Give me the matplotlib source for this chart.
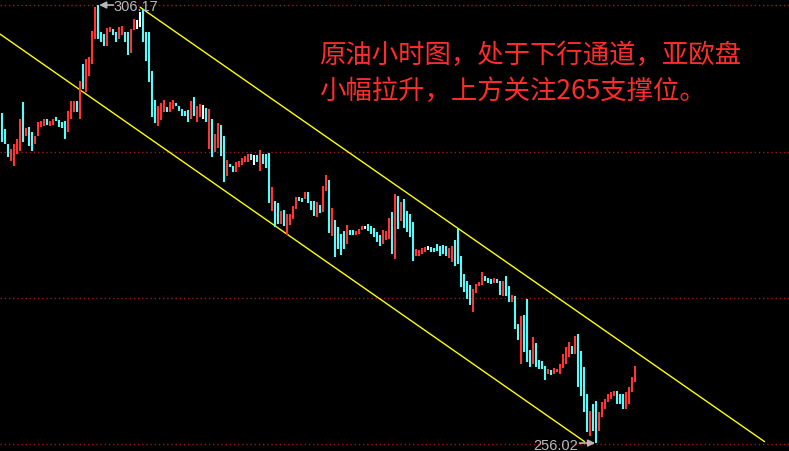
import matplotlib.pyplot as plt
import numpy as np

# hourly crude oil bars (high / low)
highs = [293.8, 292.0, 290.3, 289.7, 290.3, 290.8, 293.1, 295.1, 292.1, 292.2,
         291.6, 291.2, 292.8, 292.9, 293.1, 293.1, 292.9, 293.1, 293.3, 293.0,
         292.8, 292.9, 294.0, 295.2, 295.2, 295.2, 297.5, 299.4, 300.0, 300.2,
         303.2, 305.9, 306.17, 303.1, 302.8, 303.5, 303.7, 303.4, 303.1, 303.7,
         303.8, 303.1, 303.1, 303.4, 304.6, 304.5, 305.4, 305.7, 303.1, 303.1,
         298.6, 295.3, 294.6, 295.0, 295.3, 294.5, 295.1, 295.3, 295.0, 294.6,
         294.3, 294.0, 294.2, 295.2, 295.6, 294.6, 294.8, 294.7, 294.4, 294.3,
         293.1, 291.4, 292.7, 292.4, 291.2, 288.4, 288.0, 287.7, 288.2, 288.3,
         288.6, 288.9, 289.1, 289.1, 289.0, 289.0, 289.6, 289.1, 289.1, 289.2,
         285.3, 283.7, 283.5, 282.6, 282.7, 282.2, 282.2, 283.2, 284.2, 284.2,
         284.1, 284.8, 284.8, 283.7, 283.7, 283.6, 283.3, 285.4, 286.7, 286.1,
         282.9, 281.6, 280.8, 280.0, 280.3, 281.0, 280.4, 280.4, 280.3, 280.5,
         280.9, 280.9, 281.1, 280.9, 280.6, 280.2, 279.8, 280.4, 280.3, 281.8,
         282.5, 284.5, 284.3, 283.6, 284.0, 282.6, 282.2, 281.3, 278.2, 278.1,
         278.3, 278.5, 278.6, 278.5, 278.3, 278.8, 278.6, 278.7, 278.6, 278.3,
         278.6, 279.3, 280.5, 277.4, 275.4, 274.6, 274.1, 273.7, 274.2, 274.5,
         275.6, 275.1, 274.9, 274.8, 274.9, 274.8, 274.6, 274.6, 275.1, 274.0,
         273.0, 272.9, 269.6, 270.6, 270.7, 272.5, 266.7, 268.2, 267.5, 265.5,
         265.4, 264.8, 264.5, 264.4, 264.6, 264.5, 265.1, 266.2, 267.0, 267.6,
         267.1, 268.3, 268.5, 266.6, 264.7, 261.6, 259.7, 260.5, 260.8, 259.6,
         260.7, 261.1, 261.6, 261.9, 262.0, 262.0, 261.6, 261.6, 261.9, 262.4,
         263.6, 264.8]
lows = [290.5, 290.3, 288.8, 288.3, 287.7, 289.1, 289.5, 290.5, 291.2, 290.0,
        289.5, 290.3, 291.2, 292.2, 292.3, 292.4, 292.3, 292.4, 292.9, 292.2,
        292.1, 290.8, 291.6, 293.1, 293.9, 293.9, 293.1, 296.6, 296.2, 298.0,
        299.4, 302.3, 302.3, 301.9, 301.5, 301.5, 303.1, 302.7, 301.9, 302.3,
        302.7, 301.9, 300.4, 300.7, 303.3, 303.4, 303.7, 301.9, 299.8, 297.4,
        293.3, 292.7, 292.3, 293.0, 293.9, 293.9, 293.9, 294.3, 294.6, 294.0,
        293.5, 293.5, 292.8, 293.1, 293.5, 292.8, 293.3, 293.1, 292.8, 289.7,
        288.8, 289.3, 289.8, 288.9, 285.9, 286.6, 287.6, 287.0, 287.0, 287.6,
        287.8, 288.2, 288.2, 288.4, 287.8, 288.2, 287.2, 288.0, 287.5, 283.5,
        282.6, 280.8, 281.1, 281.1, 280.9, 279.8, 281.0, 281.7, 282.8, 283.7,
        283.6, 284.0, 283.5, 282.7, 282.0, 281.9, 282.4, 282.5, 284.9, 280.1,
        279.7, 277.3, 278.2, 277.5, 278.2, 278.8, 279.8, 279.8, 279.8, 280.0,
        280.4, 280.5, 280.3, 280.0, 279.6, 279.0, 278.6, 278.8, 279.3, 279.4,
        277.7, 277.1, 280.5, 281.4, 280.6, 280.2, 279.6, 276.9, 277.4, 277.4,
        277.7, 277.9, 278.1, 277.9, 277.9, 278.0, 277.4, 277.7, 277.4, 277.2,
        276.7, 276.3, 276.5, 273.9, 273.3, 272.5, 271.8, 271.0, 273.2, 274.0,
        274.1, 274.6, 274.3, 274.2, 274.3, 274.3, 273.0, 272.9, 272.9, 272.2,
        272.2, 269.1, 267.8, 265.1, 266.4, 265.3, 264.7, 265.1, 264.7, 264.5,
        264.5, 263.2, 263.9, 263.8, 263.9, 264.1, 263.9, 264.6, 265.1, 265.9,
        266.2, 266.2, 262.4, 261.4, 259.6, 257.3, 256.8, 257.4, 256.02, 257.4,
        259.0, 259.9, 260.7, 261.1, 261.4, 260.5, 260.5, 259.9, 259.9, 260.5,
        261.9, 263.0]
# r = up (red), c = down (cyan), w = doji (white)
kinds = ("cccrrrrcrc" "crrrrcrrcc" "ccrrrcrcrr" "rrcccrrccr" "rccrrwwccc"
         "ccrrrcrrcc" "cccrcrrwcr" "crrccrccrr" "rrrcwcrccc" "rccrcrrrrc"
         "crcccrcrrc" "rccccrccrr" "rwcccccrrr" "crcrccccrr" "rrwccccccr"
         "rccccccrrr" "rcccrccrcc" "rccrcccrcc" "ccrcrrrrrr" "crccccrccr"
         "rrrrrcccrr" "rr")

# channel lines: (bar index, price) end points
upper_x = [46, 254]
upper_y = [305.9, 256.2]
lower_x = [-1, 194]
lower_y = [302.9, 256.2]

grid_levels = [306.17, 289.4, 272.6, 255.9]
hi_label = 306.17
lo_label = 256.02
note1 = "原油小时图，处于下行通道，亚欧盘"
note2 = "小幅拉升，上方关注265支撑位。"

colmap = {'r': '#ff3434', 'c': '#56fcfc', 'w': '#ffffff'}

fig = plt.figure(figsize=(7.89, 4.52), dpi=100, facecolor='black')
ax = fig.add_axes([0, 0, 1, 1])
ax.set_facecolor('black')
ax.set_xlim(-0.77, 262.23)
ax.set_ylim(255.11, 306.86)
ax.axis('off')

for g in grid_levels:
    ax.axhline(g, color='#9a1818', lw=1, ls=(0, (1, 2)), zorder=1)

idx = np.arange(len(highs))
cols = [colmap[k] for k in kinds]
ax.vlines(idx, lows, highs, colors=cols, lw=1.5, capstyle='butt', zorder=3)

ax.plot(upper_x, upper_y, color='#ffff00', lw=1, zorder=2)
ax.plot(lower_x, lower_y, color='#ffff00', lw=1, zorder=2)

gray = '#b8b8b8'
ax.annotate('', xy=(32.3, hi_label), xytext=(37.0, hi_label),
            arrowprops=dict(arrowstyle='-|>', color=gray, lw=1.2, mutation_scale=10,
                            shrinkA=0, shrinkB=0))
ax.text(37.2, hi_label - 0.15, f"{hi_label:.2f}", color=gray, fontsize=10.5,
        family='Liberation Sans', va='center', ha='left')
ax.annotate('', xy=(197.6, lo_label), xytext=(192.4, lo_label),
            arrowprops=dict(arrowstyle='-|>', color=gray, lw=1.2, mutation_scale=10,
                            shrinkA=0, shrinkB=0))
ax.text(192.0, lo_label - 0.25, f"{lo_label:.2f}", color=gray, fontsize=10.5,
        family='Liberation Sans', va='center', ha='right')

ax.text(0.405, 0.878, note1, transform=ax.transAxes, color='#ff2c2c', fontsize=19,
        family=['Noto Sans CJK SC', 'DejaVu Sans'], va='center', ha='left')
ax.text(0.405, 0.798, note2, transform=ax.transAxes, color='#ff2c2c', fontsize=19,
        family=['Noto Sans CJK SC', 'DejaVu Sans'], va='center', ha='left')

fig.savefig('out.png', dpi=100, facecolor='black')
